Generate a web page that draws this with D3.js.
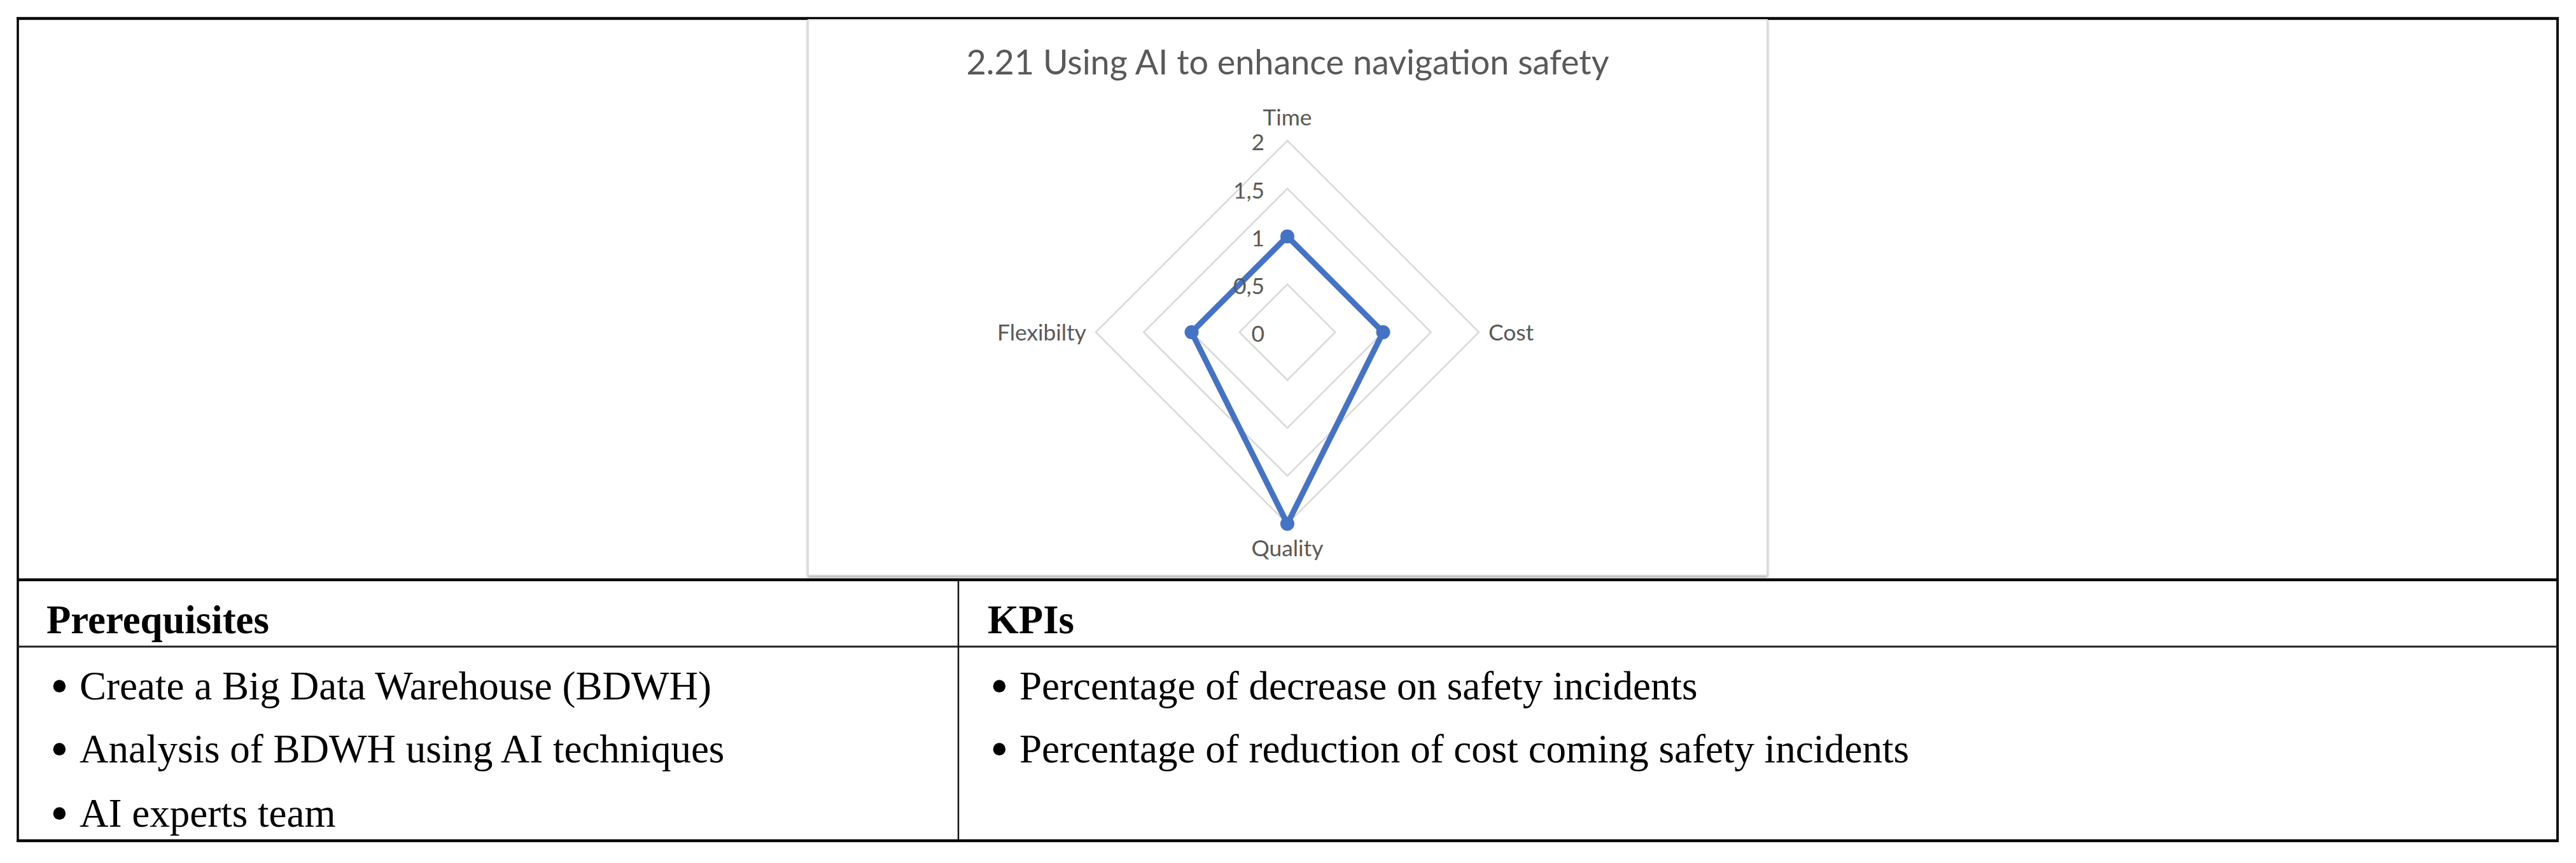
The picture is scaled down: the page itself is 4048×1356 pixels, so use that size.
<!DOCTYPE html>
<html>
<head>
<meta charset="utf-8">
<script src="https://cdnjs.cloudflare.com/ajax/libs/d3/7.8.5/d3.min.js"></script>
<style>
  body { margin: 0; background: #fff; }
  svg { display: block; }
</style>
</head>
<body>
<div id="chart"></div>
<script>
// Radar chart values
const categories = ["Time", "Cost", "Quality", "Flexibilty"];
const values = [1, 1, 2, 1];
const tickValues = [0, 0.5, 1, 1.5, 2];
const tickLabels = ["0", "0,5", "1", "1,5", "2"];
const chartTitle = "2.21 Using AI to enhance navigation safety";

// Table texts
const headers = ["Prerequisites", "KPIs"];
const prerequisites = ["Create a Big Data Warehouse (BDWH)", "Analysis of BDWH using AI techniques", "AI experts team"];
const kpis = ["Percentage of decrease on safety incidents", "Percentage of reduction of cost coming safety incidents"];

const width = 4048, height = 1356;

const svg = d3.select("#chart")
    .append("svg")
    .attr("width", width)
    .attr("height", height);

// scale font-size of a text so it reaches a given width
function fitWidth(sel, target) {
    const w = sel.node().getComputedTextLength();
    const fs = parseFloat(sel.attr("font-size"));
    return fs * target / w;
}

// ---- table lines ----
const T = {left: 28, right: 4019, top: 29, row: 911, head: 1016, bottom: 1321, col: 1506};
const lines = svg.append("g").attr("stroke", "#000");
lines.append("line").attr("x1", T.left - 2).attr("x2", T.right + 2).attr("y1", T.top).attr("y2", T.top).attr("stroke-width", 4.5);
lines.append("line").attr("x1", T.left - 2).attr("x2", T.right + 2).attr("y1", T.bottom).attr("y2", T.bottom).attr("stroke-width", 4.5);
lines.append("line").attr("x1", T.left).attr("x2", T.left).attr("y1", T.top).attr("y2", T.bottom).attr("stroke-width", 3.5);
lines.append("line").attr("x1", T.right).attr("x2", T.right).attr("y1", T.top).attr("y2", T.bottom).attr("stroke-width", 4).attr("stroke", "#111");
lines.append("line").attr("x1", T.left).attr("x2", T.right).attr("y1", T.row).attr("y2", T.row).attr("stroke-width", 4.5);
lines.append("line").attr("x1", T.left).attr("x2", T.right).attr("y1", T.head).attr("y2", T.head).attr("stroke-width", 3).attr("stroke", "#222");
lines.append("line").attr("x1", T.col).attr("x2", T.col).attr("y1", T.row).attr("y2", T.bottom).attr("stroke-width", 2.5).attr("stroke", "#111");

// ---- table text ----
const serif = "'Liberation Serif', 'Times New Roman', serif";
const colX = [73, 1552];
const bulletX = [79, 1556];
const textX = [125, 1602];
const rowY = [1099, 1198, 1299];

const headText = svg.selectAll(".head")
    .data(headers)
    .enter()
    .append("text")
    .attr("class", "head")
    .attr("x", (d, i) => colX[i])
    .attr("y", 995)
    .attr("font-family", serif)
    .attr("font-weight", "bold")
    .attr("font-size", 62)
    .attr("fill", "#000")
    .text(d => d);
const headSize = fitWidth(headText.filter((d, i) => i === 0), 350);
headText.attr("font-size", headSize);

const columns = [prerequisites, kpis];
let bodySize = 62;
columns.forEach(function(items, c) {
    const g = svg.append("g");
    g.selectAll(".bullet")
        .data(items)
        .enter()
        .append("text")
        .attr("class", "bullet")
        .attr("x", bulletX[c])
        .attr("y", (d, i) => rowY[i] + 7)
        .attr("font-family", serif)
        .attr("font-size", 82)
        .text("\u2022");
    const t = g.selectAll(".item")
        .data(items)
        .enter()
        .append("text")
        .attr("class", "item")
        .attr("x", textX[c])
        .attr("y", (d, i) => rowY[i])
        .attr("font-family", serif)
        .attr("font-size", 62)
        .attr("fill", "#000")
        .text(d => d);
    if (c === 0) bodySize = fitWidth(t.filter((d, i) => i === 0), 993);
    t.attr("font-size", bodySize);
});

// ---- chart box ----
const box = {x: 1270, y: 31, w: 1507, h: 873};
const defs = svg.append("defs");
const f = defs.append("filter").attr("id", "shadow").attr("x", "-5%").attr("y", "-5%").attr("width", "110%").attr("height", "110%");
f.append("feDropShadow").attr("dx", 0).attr("dy", 2).attr("stdDeviation", 2).attr("flood-color", "#000").attr("flood-opacity", 0.35);

svg.append("rect")
    .attr("x", box.x).attr("y", box.y)
    .attr("width", box.w).attr("height", box.h)
    .attr("fill", "#fff")
    .attr("stroke", "#d9d9d9")
    .attr("stroke-width", 2)
    .attr("filter", "url(#shadow)");

const sans = "Lato, 'Open Sans', sans-serif";
const textColor = "#595959";

const title = svg.append("text")
    .attr("x", box.x + box.w / 2)
    .attr("y", 117)
    .attr("text-anchor", "middle")
    .attr("font-family", sans)
    .attr("font-size", 56)
    .attr("fill", textColor)
    .text(chartTitle);
title.attr("font-size", fitWidth(title, 1010));

// ---- radar ----
const cx = 2023, cy = 522, R = 301;
const r = d3.scaleLinear().domain([0, 2]).range([0, R]);
const step = 2 * Math.PI / categories.length;
const ang = (d, i) => i * step;

const radar = svg.append("g").attr("transform", "translate(" + cx + "," + cy + ")");

const gridLine = d3.lineRadial()
    .angle((d, i) => ang(d, i))
    .radius(d => r(d))
    .curve(d3.curveLinearClosed);

radar.selectAll(".grid")
    .data(tickValues.filter(v => v > 0))
    .enter()
    .append("path")
    .attr("class", "grid")
    .attr("d", v => gridLine(categories.map(() => v)))
    .attr("fill", "none")
    .attr("stroke", "#d9d9d9")
    .attr("stroke-width", 2.5);

// data polygon
radar.append("path")
    .datum(values)
    .attr("d", gridLine)
    .attr("fill", "none")
    .attr("stroke", "#4472C4")
    .attr("stroke-width", 9)
    .attr("stroke-linejoin", "round");

radar.selectAll(".dot")
    .data(values)
    .enter()
    .append("circle")
    .attr("class", "dot")
    .attr("cx", (d, i) => r(d) * Math.sin(ang(d, i)))
    .attr("cy", (d, i) => -r(d) * Math.cos(ang(d, i)))
    .attr("r", 11)
    .attr("fill", "#4472C4");

// category labels
const catLabels = radar.selectAll(".cat")
    .data(categories)
    .enter()
    .append("text")
    .attr("class", "cat")
    .attr("font-family", sans)
    .attr("font-size", 36)
    .attr("fill", textColor)
    .text(d => d);
const labelSize = fitWidth(catLabels.filter(d => d === "Flexibilty"), 140);
catLabels.attr("font-size", labelSize);

catLabels.each(function(d, i) {
    const s = d3.select(this);
    if (i === 0) {
        s.attr("x", 0).attr("y", -R - 24).attr("text-anchor", "middle");
    } else if (i === 2) {
        s.attr("x", 0).attr("y", R + 24).attr("dy", "0.75em").attr("text-anchor", "middle");
    } else {
        s.attr("x", i === 1 ? R + 15 : -R - 15).attr("y", 1).attr("dy", "0.35em")
            .attr("text-anchor", i === 1 ? "start" : "end");
    }
});

// radial axis tick labels
radar.selectAll(".tick")
    .data(tickValues)
    .enter()
    .append("text")
    .attr("class", "tick")
    .attr("x", -36)
    .attr("y", d => -r(d) + 3)
    .attr("dy", "0.35em")
    .attr("text-anchor", "end")
    .attr("font-family", sans)
    .attr("font-size", labelSize)
    .attr("fill", textColor)
    .text((d, i) => tickLabels[i]);
</script>
</body>
</html>
